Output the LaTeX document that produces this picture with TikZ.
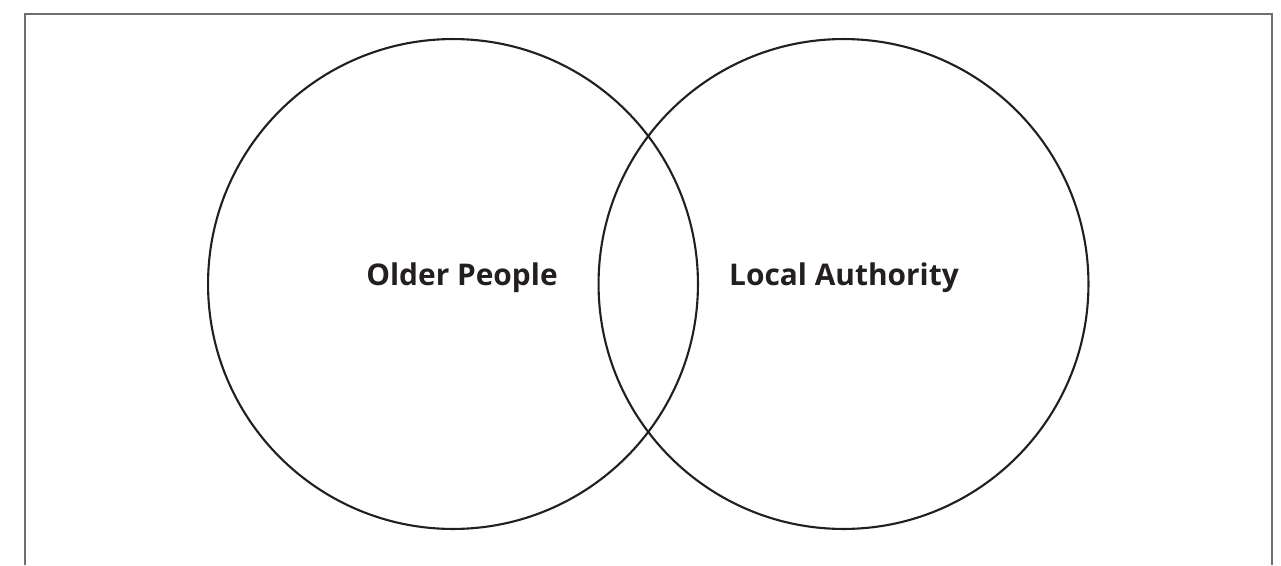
\documentclass[tikz,border=0pt]{standalone}
\usepackage{fontspec}
\setsansfont{Open Sans}
\usetikzlibrary{positioning}
\definecolor{vnInk}{RGB}{35,31,32}
\definecolor{vnFrame}{RGB}{110,110,110}
\tikzset{
    base/.style={font=\sffamily\bfseries\fontsize{17}{20}\selectfont, align=center, text=vnInk},
    setcircle/.style={circle, draw=vnInk, line width=1.2pt, minimum size=9.8cm, inner sep=0pt},
    setname/.style={base, inner sep=0pt},
    frameline/.style={draw=vnFrame, line width=1pt}
}
\begin{document}
\begin{tikzpicture}[x=0.02cm, y=-0.02cm]
  \useasboundingbox (0,0) rectangle (1281,565);
  % Open frame
  \coordinate (fbl) at (25,565);
  \coordinate (ftl) at (25,14);
  \coordinate (ftr) at (1272,14);
  \coordinate (fbr) at (1272,565);
  \draw[frameline] (fbl) -- (ftl) -- (ftr) -- (fbr);

  % The two sets
  \node[setcircle] (older) at (453,284) {};
  \node[setcircle] (authority) at (843.5,284) {};

  % Set names
  \node[setname] (olderlabel) at (462,278) {Older People};
  \node[setname] (authoritylabel) at (844,278) {Local Authority};
\end{tikzpicture}
\end{document}
